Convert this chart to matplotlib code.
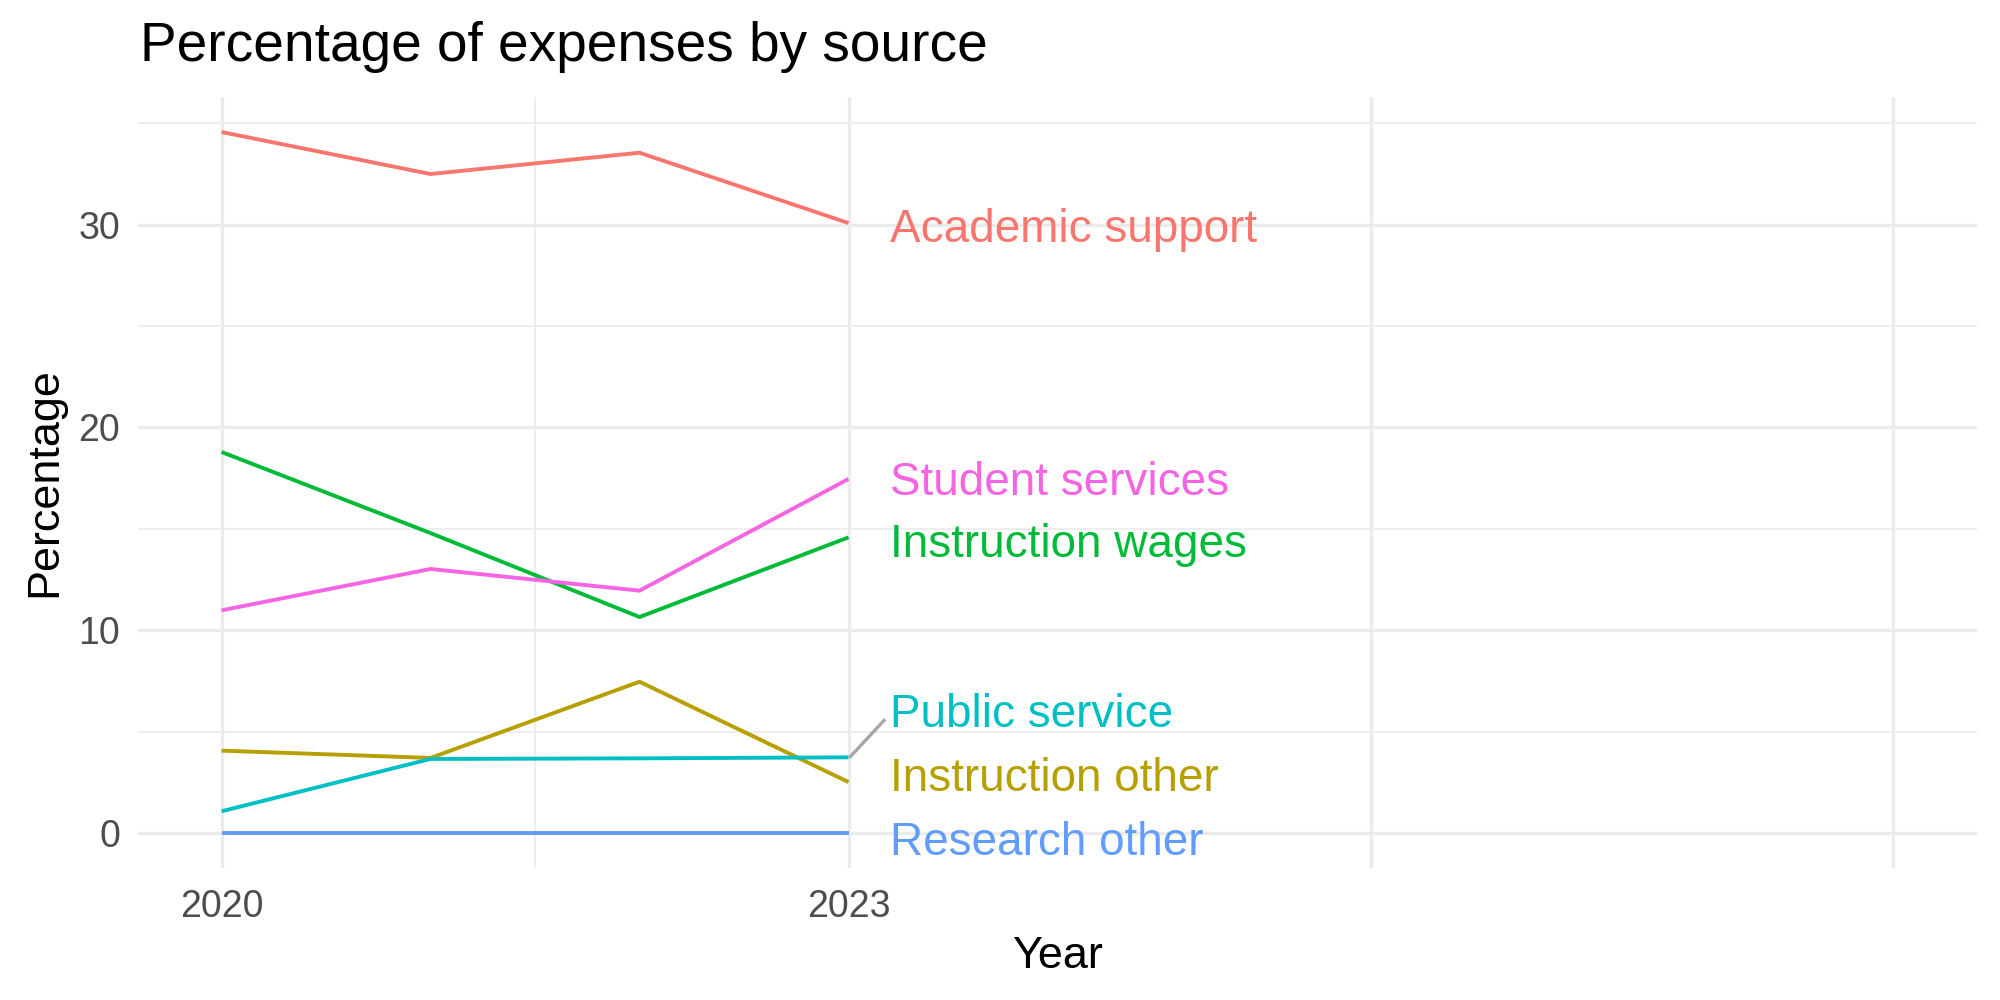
import matplotlib
matplotlib.use("Agg")
import matplotlib.pyplot as plt

plt.rcParams['font.family'] = ['Liberation Sans', 'DejaVu Sans']

years = [2020, 2021, 2022, 2023]
sources = ["Academic support", "Instruction other", "Instruction wages",
           "Public service", "Research other", "Student services"]
academic_support = [34.57, 32.50, 33.55, 30.08]
instruction_other = [4.06, 3.70, 7.46, 2.51]
instruction_wages = [18.79, 14.79, 10.65, 14.58]
public_service = [1.07, 3.65, 3.68, 3.73]
research_other = [0.0, 0.0, 0.0, 0.0]
student_services = [10.98, 13.02, 11.95, 17.46]
series = [academic_support, instruction_other, instruction_wages,
          public_service, research_other, student_services]
colors = ["#F8766D", "#B79F00", "#00BA38", "#00BFC4", "#619CFF", "#F564E3"]
# repelled label positions (y)
label_y = [30.0, 2.9, 14.43, 6.05, -0.25, 17.52]

x_ticks = [2020, 2023]
x_major_grid = [2020, 2023, 2025.5, 2028]
x_minor_grid = [2021.5]
y_ticks = [0, 10, 20, 30]
y_minor = [5, 15, 25, 35]

fig = plt.figure(figsize=(10, 5), dpi=200)
ax = fig.add_axes([0.069, 0.132, 0.9195, 0.771])

grid_c = "#EBEBEB"
for xv in x_major_grid:
    ax.axvline(xv, color=grid_c, lw=1.2, zorder=0)
for xv in x_minor_grid:
    ax.axvline(xv, color=grid_c, lw=0.6, zorder=0)
for yv in y_ticks:
    ax.axhline(yv, color=grid_c, lw=1.2, zorder=0)
for yv in y_minor:
    ax.axhline(yv, color=grid_c, lw=0.6, zorder=0)

for name, vals, c, ly in zip(sources, series, colors, label_y):
    ax.plot(years, vals, color=c, lw=1.4, zorder=3, solid_capstyle='butt')
    ax.text(years[-1] + 0.2, ly, name, color=c, fontsize=16.5,
            ha='left', va='center_baseline', zorder=4)

# connector segment for repelled "Public service" label
ps_i = sources.index("Public service")
ax.plot([years[-1] + 0.01, years[-1] + 0.17],
        [public_service[-1] + 0.05, label_y[ps_i] - 0.5],
        color="#A6A6A6", lw=1.2, zorder=2)

ymax = max(max(s) for s in series)
ymin = 0
pad = (ymax - ymin) * 0.05
ax.set_ylim(ymin - pad, ymax + pad)
ax.set_xlim(2020 - 0.4, 2028 + 0.4)

ax.set_xticks(x_ticks)
ax.set_xticklabels([str(v) for v in x_ticks])
ax.set_yticks(y_ticks)
ax.tick_params(length=0, labelsize=13.5, labelcolor="#4D4D4D")
ax.tick_params(axis='y', pad=6.5)
ax.tick_params(axis='x', pad=7.5)
for s in ax.spines.values():
    s.set_visible(False)

ax.set_xlabel("Year", fontsize=16.2, labelpad=4)
ax.set_ylabel("Percentage", fontsize=16.2, labelpad=4.5)
fig.text(0.07, 0.953, "Percentage of expenses by source", fontsize=19.8,
         ha='left', va='center')

fig.savefig("out.png", dpi=200, facecolor="white")
